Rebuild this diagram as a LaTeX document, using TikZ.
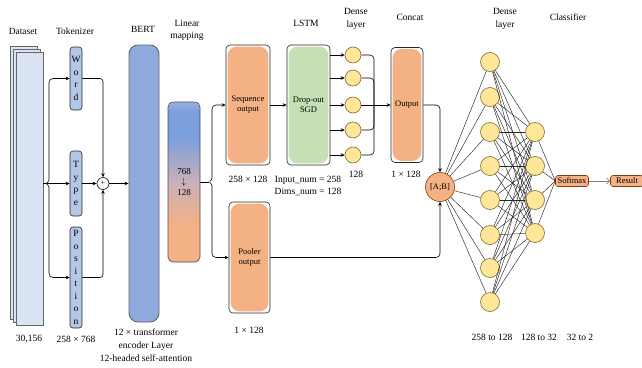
\documentclass[tikz,border=0pt]{standalone}
\usepackage{fontspec}
\setmainfont{Liberation Serif}
\usetikzlibrary{arrows.meta}
\definecolor{pageblue}{HTML}{DAE3F3}
\definecolor{tokblue}{HTML}{B4C7E7}
\definecolor{bertblue}{HTML}{8FAADC}
\definecolor{linblue}{HTML}{7C9FDD}
\definecolor{linmid}{HTML}{C9B0B8}
\definecolor{orangeF}{HTML}{F4B183}
\definecolor{greenF}{HTML}{C5E0B4}
\definecolor{yellowF}{HTML}{FFE699}
\definecolor{yellowD}{HTML}{7F6A2A}
\definecolor{brownD}{HTML}{843C0C}
\pgfdeclareverticalshading{linshade}{100bp}{color(0bp)=(orangeF); color(25bp)=(orangeF); color(36bp)=(orangeF); color(50bp)=(linmid); color(64bp)=(linblue); color(72bp)=(linblue); color(75bp)=(linblue!80!white); color(100bp)=(linblue!80!white)}
\begin{document}
\begin{tikzpicture}[x=1pt,y=-1pt,
  lbl/.style={font=\fontsize{9.5}{11}\selectfont, align=center, inner sep=0pt},
  page/.style={draw=black!60, fill=pageblue, minimum width=27pt, minimum height=273pt, inner sep=0pt, line width=0.5pt},
  tok/.style={draw=black!85, fill=tokblue, rounded corners=3pt, minimum width=12pt, inner sep=0pt, font=\fontsize{9.5}{12.5}\selectfont, align=center, line width=0.6pt},
  blk/.style={draw=black!85, rounded corners=4pt, line width=0.6pt, inner sep=0pt, align=center, font=\fontsize{8.5}{10}\selectfont},
  infill/.style={blk, path picture={\fill[#1, rounded corners=9pt] ([shift={(1.6pt,1.6pt)}]path picture bounding box.south west) rectangle ([shift={(-1.6pt,-1.6pt)}]path picture bounding box.north east);}},
  dot/.style={circle, draw=yellowD, fill=yellowF, line width=0.6pt, minimum size=16pt, inner sep=0pt},
  bigdot/.style={dot, minimum size=19pt},
  arr/.style={-{Stealth[length=4pt,width=3.5pt]}, line width=0.6pt},
  ln/.style={line width=0.6pt},
  net/.style={line width=0.45pt, black!85},
  smallbox/.style={draw=brownD, fill=orangeF, rounded corners=2.5pt, line width=0.6pt, inner sep=0.8pt, minimum width=33pt, minimum height=11pt, font=\fontsize{8.5}{9}\selectfont}
]
\useasboundingbox (0,0) rectangle (642,367);

% titles
\node[lbl] (tDataset) at (23,31) {Dataset};
\node[lbl] (tTok) at (75,31) {Tokenizer};
\node[lbl] (tBert) at (143,29) {BERT};
\node[lbl, font=\fontsize{9.5}{12.5}\selectfont] (tLin) at (187,30.5) {Linear\\mapping};
\node[lbl] (tLstm) at (306,23) {LSTM};
\node[lbl, font=\fontsize{9.5}{12.5}\selectfont] (tDense1) at (356,19) {Dense\\layer};
\node[lbl] (tConcat) at (410,17) {Concat};
\node[lbl, font=\fontsize{9.5}{12.5}\selectfont] (tDense2) at (505,19) {Dense\\layer};
\node[lbl] (tClass) at (568,17) {Classifier};

% dataset pages
\node[page] (ds3) at (23.5,182.5) {};
\node[page] (ds2) at (26.5,185.5) {};
\node[page] (ds1) at (29.5,188.5) {};

% tokenizer
\node[tok, minimum height=63pt] (word) at (76,78.5) {W\\o\\r\\d};
\node[tok, minimum height=65pt] (type) at (76,183.5) {T\\y\\p\\e};
\node[tok, minimum height=101pt] (position) at (76,277.5) {P\\o\\s\\i\\t\\i\\o\\n};
\node[circle, draw=black!85, fill=white, line width=0.7pt, minimum size=12pt, inner sep=0pt, font=\fontsize{8}{8}\selectfont] (plus) at (103,183.5) {+};

\coordinate (dsT) at (49,179.5);
\coordinate (dsB) at (49,187.5);
\draw[ln, rounded corners=1.5pt] (dsT) -- (49,181.5) -- (45.5,183.5) -- (49,185.5) -- (dsB);
\draw[arr] (ds1.east |- type.west) -- (type.west);
\draw[arr, rounded corners=4pt] (dsT) |- (word.west);
\draw[arr, rounded corners=4pt] (dsB) |- (position.west);
\draw[arr, rounded corners=3pt] (word.east) -| (plus.north);
\draw[arr, rounded corners=3pt] (position.east) -| (plus.south);
\draw[arr] (type.east) -- (plus.west);

% BERT
\node[draw=black!60, fill=bertblue, rounded corners=9pt, line width=0.9pt, minimum width=30pt, minimum height=277pt, inner sep=0pt] (bert) at (144,183.5) {};
\draw[arr] (plus.east) -- (bert.west |- plus);

% linear mapping
\node[draw=black!70, rounded corners=5pt, line width=0.6pt, minimum width=32pt, minimum height=160pt, inner sep=0pt,
      shading=linshade, align=center, font=\fontsize{9}{10.5}\selectfont] (lin) at (184,182) {768\\$\downarrow$\\128};

% sequence / pooler
\node[infill=orangeF, minimum width=44pt, minimum height=120pt] (seq) at (248,105) {Sequence\\output};
\node[infill=orangeF, minimum width=41pt, minimum height=111pt] (pool) at (249.5,257.5) {Pooler\\output};
\coordinate (lbT) at (212,178);
\coordinate (lbB) at (212,186);
\draw[ln] (lin.east) -- (208.5,182);
\draw[ln, rounded corners=1.5pt] (lbT) -- (212,180) -- (208.5,182) -- (212,184) -- (lbB);
\draw[arr, rounded corners=4pt] (lbT) |- (seq.west);
\draw[arr, rounded corners=4pt] (lbB) |- (pool.west);

% LSTM
\node[infill=greenF, minimum width=43pt, minimum height=120pt] (lstm) at (308.5,105) {Drop-out\\SGD};
\draw[arr] (seq.east) -- (lstm.west);

% small dense
\node[dot] (d1) at (353,55) {};
\node[dot] (d2) at (353,78) {};
\node[dot] (d3) at (353,105) {};
\node[dot] (d4) at (353,130) {};
\node[dot] (d5) at (353,155) {};
\foreach \i in {1,...,5} {\draw[arr] (lstm.east |- d\i) -- (d\i.west);}

% output
\node[infill=orangeF, minimum width=32pt, minimum height=115pt] (out) at (407,105) {Output};
\coordinate (m) at (374,105);
\foreach \i in {1,2,4,5} {\draw[ln, rounded corners=4pt] (d\i.east) -| (m);}
\draw[arr] (d3.east) -- (out.west);

% concat
\node[circle, draw=brownD, fill=orangeF, line width=0.6pt, minimum size=29pt, inner sep=0pt, font=\fontsize{8.5}{9}\selectfont] (ab) at (440,187) {[A;B]};
\draw[arr, rounded corners=4pt] (out.east) -| (ab.north);
\draw[arr, rounded corners=4pt] (pool.east) -| (ab.south);

% dense layer
\foreach \i/\y in {1/62,2/97,3/132,4/166,5/200,6/235,7/268,8/302} {\node[bigdot] (h\i) at (490,\y) {};}
\foreach \i/\y in {1/132,2/166,3/200,4/233} {\node[bigdot] (k\i) at (535,\y) {};}
\foreach \i in {1,...,8} {\draw[net] (ab) -- (h\i);}
\foreach \i in {1,...,8} {\foreach \j in {1,...,4} {\draw[net] (h\i) -- (k\j);}}

% classifier
\node[smallbox] (soft) at (572,181) {Softmax};
\node[smallbox] (result) at (627,181) {Result};
\foreach \j in {1,...,4} {\draw[net] (k\j) -- (soft.west);}
\draw[-{Straight Barb[length=3pt,width=6pt]}, gray, line width=0.7pt] (soft.east) -- (result.west);

% bottom labels
\node[lbl] (n30156) at (29,339) {30,156};
\node[lbl] (n258768) at (76,339) {258 × 768};
\node[lbl, font=\fontsize{9.5}{13}\selectfont] (bertlbl) at (146,345.5) {12 × transformer\\encoder Layer\\12-headed self-attention};
\node[lbl] (n258128) at (248,179) {258 × 128};
\node[lbl, font=\fontsize{9.5}{12}\selectfont] (lstmlbl) at (308,185.5) {Input\_num = 258\\Dims\_num = 128};
\node[lbl] (n128) at (356,174) {128};
\node[lbl] (n1128a) at (406,174) {1 × 128};
\node[lbl] (n1128b) at (249,330) {1 × 128};
\node[lbl] (n258to128) at (492,337) {258 to 128};
\node[lbl] (n128to32) at (539,337) {128 to 32};
\node[lbl] (n32to2) at (580,337) {32 to 2};
\end{tikzpicture}
\end{document}
